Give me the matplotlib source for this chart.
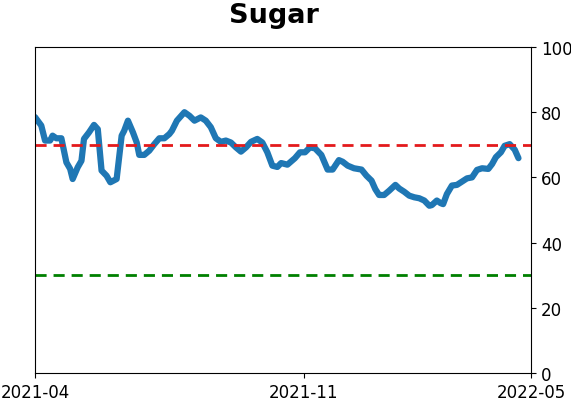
import pandas as pd
import matplotlib
matplotlib.use('Agg')
from matplotlib import pyplot as plt

dates = ['2021-04-01', '2021-04-06', '2021-04-09', '2021-04-13', '2021-04-15', '2021-04-18',
         '2021-04-22', '2021-04-26', '2021-04-29', '2021-05-01', '2021-05-05', '2021-05-08',
         '2021-05-10', '2021-05-14', '2021-05-18', '2021-05-21', '2021-05-24', '2021-05-28',
         '2021-05-31', '2021-06-05', '2021-06-09', '2021-06-11', '2021-06-14', '2021-06-18',
         '2021-06-21', '2021-06-23', '2021-06-27', '2021-07-01', '2021-07-05', '2021-07-09',
         '2021-07-13', '2021-07-17', '2021-07-19', '2021-07-23', '2021-07-29', '2021-08-02',
         '2021-08-06', '2021-08-11', '2021-08-15', '2021-08-19', '2021-08-23', '2021-08-27',
         '2021-08-31', '2021-09-04', '2021-09-08', '2021-09-12', '2021-09-16', '2021-09-20',
         '2021-09-25', '2021-09-29', '2021-10-03', '2021-10-07', '2021-10-11', '2021-10-14',
         '2021-10-19', '2021-10-25', '2021-10-29', '2021-11-02', '2021-11-06', '2021-11-10',
         '2021-11-15', '2021-11-20', '2021-11-24', '2021-11-29', '2021-12-02', '2021-12-06',
         '2021-12-11', '2021-12-17', '2021-12-21', '2021-12-25', '2021-12-28', '2021-12-31',
         '2022-01-04', '2022-01-08', '2022-01-13', '2022-01-16', '2022-01-20', '2022-01-24',
         '2022-01-28', '2022-02-01', '2022-02-05', '2022-02-09', '2022-02-11', '2022-02-15',
         '2022-02-18', '2022-02-20', '2022-02-23', '2022-02-27', '2022-03-03', '2022-03-07',
         '2022-03-11', '2022-03-15', '2022-03-19', '2022-03-23', '2022-03-28', '2022-03-31',
         '2022-04-03', '2022-04-07', '2022-04-10', '2022-04-14', '2022-04-18', '2022-04-21']
values = [78.5, 75.9, 71.3, 71.3, 72.8, 72.0,
          72.0, 64.6, 62.6, 59.5, 63.1, 65.1,
          71.8, 73.8, 76.1, 74.8, 62.1, 60.5,
          58.5, 59.5, 72.8, 74.3, 77.4, 73.8,
          70.7, 66.9, 66.9, 68.2, 70.2, 72.0,
          72.0, 73.3, 74.3, 77.4, 80.0, 78.9,
          77.4, 78.4, 77.4, 75.4, 72.0, 70.9,
          71.3, 70.7, 69.2, 67.9, 69.2, 70.9,
          71.8, 70.7, 67.7, 63.6, 63.2, 64.4,
          63.9, 65.9, 67.7, 67.7, 69.2, 68.9,
          66.9, 62.4, 62.4, 65.3, 64.8, 63.6,
          62.8, 62.4, 60.5, 59.0, 56.4, 54.6,
          54.6, 55.9, 57.7, 56.6, 55.6, 54.4,
          53.9, 53.6, 52.9, 51.3, 51.5, 52.9,
          52.1, 51.8, 54.9, 57.5, 57.7, 58.7,
          59.7, 60.0, 62.3, 62.8, 62.6, 64.1,
          66.2, 67.7, 69.7, 70.2, 68.5, 65.9]
upper = 70
lower = 30
tick_labels = ['2021-04', '2021-11', '2022-05']

x = pd.to_datetime(dates)
ticks = pd.to_datetime([t + '-01' for t in tick_labels])

fig = plt.figure(figsize=(5.71, 4.02), dpi=100)
ax = fig.add_axes([0.0613, 0.0697, 0.8687, 0.8109])

ax.plot(x, values, color='#1f77b4', linewidth=4.5, solid_capstyle='round')
ax.axhline(upper, color='#e31a1c', linestyle='--', linewidth=2, dashes=(4, 2.5))
ax.axhline(lower, color='green', linestyle='--', linewidth=2, dashes=(4, 2.5))

ax.set_xlim(ticks[0], ticks[-1])
ax.set_ylim(0, 100)
ax.set_xticks(ticks)
ax.set_xticklabels(tick_labels)
ax.yaxis.tick_right()
ax.set_yticks([0, 20, 40, 60, 80, 100])
ax.tick_params(labelsize=12)
ax.set_title('Sugar', fontsize=19.5, fontweight='bold', pad=18, x=0.482)

fig.savefig('out.png', dpi=100)
